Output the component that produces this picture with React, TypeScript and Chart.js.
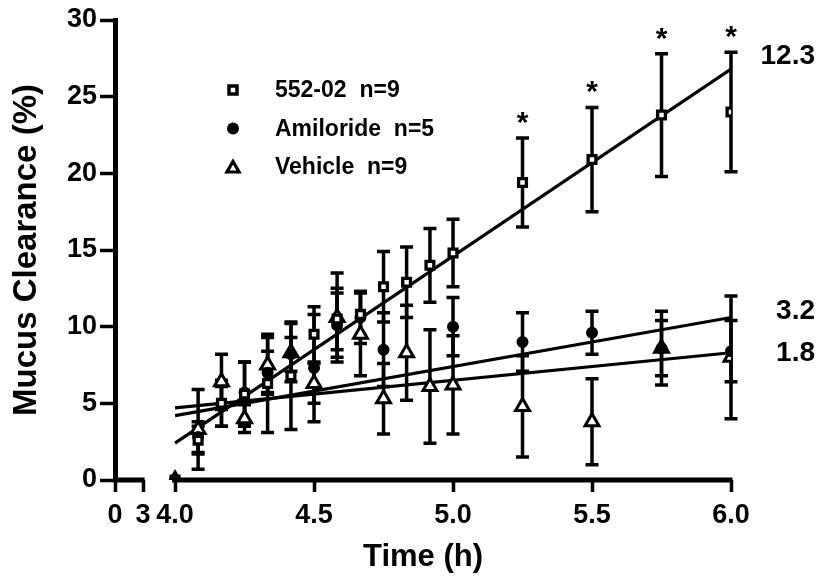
import React, { useEffect, useRef } from 'react';
import { Chart, registerables } from 'chart.js';

Chart.register(...registerables);

// ---------- data ----------
const TIMES_552 = [4.0, 4.083, 4.167, 4.25, 4.333, 4.417, 4.5, 4.583, 4.667, 4.75, 4.833, 4.917, 5.0, 5.25, 5.5, 5.75, 6.0];
const MEAN_552 = [0, 2.6, 5.0, 5.6, 6.3, 6.8, 9.5, 10.5, 10.8, 12.6, 12.9, 14.0, 14.8, 19.4, 20.9, 23.8, 24.0];
const SEM_552 = [0, 0.9, 1.5, 2.1, 3.2, 3.5, 1.8, 2.0, 1.5, 2.3, 2.3, 2.4, 2.2, 2.9, 3.4, 4.0, 3.9];

const TIMES_AMIL = [4.0, 4.083, 4.167, 4.25, 4.333, 4.417, 4.5, 4.583, 4.667, 4.75, 5.0, 5.25, 5.5, 5.75, 6.0];
const MEAN_AMIL = [0, 2.8, 4.8, 5.7, 7.0, 8.2, 7.3, 10.1, 10.6, 8.5, 10.0, 9.0, 9.6, 8.6, 8.4];
const SEM_AMIL = [0, 1.0, 1.3, 2.0, 1.4, 1.1, 3.5, 2.1, 1.7, 2.4, 1.9, 1.9, 1.4, 2.4, 2.0];

const TIMES_VEH = [4.0, 4.083, 4.167, 4.25, 4.333, 4.417, 4.5, 4.583, 4.667, 4.75, 4.833, 4.917, 5.0, 5.25, 5.5, 5.75, 6.0];
const MEAN_VEH = [0, 3.3, 6.4, 4.0, 7.5, 8.3, 6.3, 10.6, 9.5, 5.3, 8.3, 6.1, 6.2, 4.8, 3.8, 8.6, 8.0];
const SEM_VEH = [0, 2.6, 1.8, 0.9, 1.8, 1.9, 1.3, 2.9, 2.7, 2.3, 3.1, 3.7, 3.2, 3.3, 2.8, 1.8, 4.0];

// linear fits
const FIT_X = [4.0, 6.0];
const FIT_552 = [2.4, 26.8];
const FIT_AMIL = [4.2, 10.6];
const FIT_VEH = [4.7, 8.3];
const SLOPE_LABELS = ['12.3', '3.2', '1.8'];
const SLOPE_LABEL_Y = [27.7, 11.1, 8.3];

// significance marks (552-02)
const SIG_TIMES = [5.25, 5.5, 5.75, 6.0];

const LEGEND_LABELS = ['552-02  n=9', 'Amiloride  n=5', 'Vehicle  n=9'];

// broken x axis: the "0" and "3" h ticks sit on a compressed segment before 4.0
const X_PRE_LABELS = ['0', '3'];
const X_PRE_POS = [3.784, 3.885];
const X_MAIN_TICKS = [4.0, 4.5, 5.0, 5.5, 6.0];
const Y_MIN = 0;
const Y_MAX = 30;
const Y_STEP = 5;

const FONT = "'Liberation Sans', Arial, Helvetica, sans-serif";

type Series = { times: number[]; mean: number[]; sem: number[]; style: string };
const SERIES: Series[] = [
  { times: TIMES_552, mean: MEAN_552, sem: SEM_552, style: 'rect' },
  { times: TIMES_AMIL, mean: MEAN_AMIL, sem: SEM_AMIL, style: 'circle' },
  { times: TIMES_VEH, mean: MEAN_VEH, sem: SEM_VEH, style: 'triangle' },
];

function drawMarker(ctx: CanvasRenderingContext2D, style: string, x: number, y: number) {
  ctx.save();
  ctx.strokeStyle = '#000';
  ctx.fillStyle = '#fff';
  ctx.lineWidth = 3.5;
  ctx.beginPath();
  if (style === 'rect') {
    const s = 4;
    ctx.rect(x - s, y - s, 2 * s, 2 * s);
    ctx.fill();
    ctx.stroke();
  } else if (style === 'circle') {
    ctx.fillStyle = '#000';
    ctx.arc(x, y, 6, 0, Math.PI * 2);
    ctx.fill();
  } else {
    ctx.lineWidth = 3.2;
    const r = 7;
    for (let k = 0; k < 3; k++) {
      const a = (k * 2 * Math.PI) / 3;
      const px = x + Math.sin(a) * r;
      const py = y + 1.5 - Math.cos(a) * r;
      if (k === 0) ctx.moveTo(px, py);
      else ctx.lineTo(px, py);
    }
    ctx.closePath();
    ctx.fill();
    ctx.stroke();
  }
  ctx.restore();
}

const errorBarPlugin = {
  id: 'errorBars',
  beforeDatasetsDraw(chart: any) {
    const { ctx } = chart;
    const xs = chart.scales.x;
    const ys = chart.scales.y;
    ctx.save();
    ctx.strokeStyle = '#000';
    ctx.lineWidth = 3.5;
    ctx.lineCap = 'butt';
    SERIES.forEach((s) => {
      s.times.forEach((t, i) => {
        const e = s.sem[i];
        if (!e) return;
        const px = xs.getPixelForValue(t);
        const top = ys.getPixelForValue(s.mean[i] + e);
        const bot = ys.getPixelForValue(s.mean[i] - e);
        ctx.beginPath();
        ctx.moveTo(px, top);
        ctx.lineTo(px, bot);
        ctx.moveTo(px - 6.5, top);
        ctx.lineTo(px + 6.5, top);
        ctx.moveTo(px - 6.5, bot);
        ctx.lineTo(px + 6.5, bot);
        ctx.stroke();
      });
    });
    ctx.restore();
  },
};

const annotationPlugin = {
  id: 'annotations',
  afterDraw(chart: any) {
    const { ctx, chartArea } = chart;
    const xs = chart.scales.x;
    const ys = chart.scales.y;
    ctx.save();

    // broken x-axis line
    const y0 = ys.getPixelForValue(Y_MIN);
    ctx.strokeStyle = '#000';
    ctx.lineWidth = 5;
    ctx.beginPath();
    ctx.moveTo(xs.getPixelForValue(X_PRE_POS[0]) - 2, y0);
    ctx.lineTo(xs.getPixelForValue(X_PRE_POS[1]) + 1.5, y0);
    ctx.moveTo(xs.getPixelForValue(X_MAIN_TICKS[0]) - 3, y0);
    ctx.lineTo(xs.getPixelForValue(X_MAIN_TICKS[X_MAIN_TICKS.length - 1]) + 1.5, y0);
    ctx.stroke();

    // asterisks
    ctx.fillStyle = '#000';
    ctx.font = `bold 30px ${FONT}`;
    ctx.textAlign = 'center';
    ctx.textBaseline = 'alphabetic';
    SIG_TIMES.forEach((t) => {
      const i = TIMES_552.indexOf(t);
      const px = xs.getPixelForValue(t);
      const top = ys.getPixelForValue(MEAN_552[i] + SEM_552[i]);
      ctx.fillText('*', px, top - 6);
    });

    // slope labels
    ctx.font = `bold 28px ${FONT}`;
    ctx.textAlign = 'right';
    ctx.textBaseline = 'middle';
    SLOPE_LABELS.forEach((lab, i) => {
      ctx.fillText(lab, chartArea.right + 84, ys.getPixelForValue(SLOPE_LABEL_Y[i]) + 1);
    });

    // legend
    ctx.font = `bold 23px ${FONT}`;
    ctx.textAlign = 'left';
    ctx.textBaseline = 'middle';
    LEGEND_LABELS.forEach((lab, i) => {
      const ly = chartArea.top + 70 + i * 38.5;
      drawMarker(ctx, SERIES[i].style, chartArea.left + 118, ly);
      ctx.fillStyle = '#000';
      ctx.fillText(lab, chartArea.left + 160, ly + 1);
    });

    ctx.restore();
  },
};

export default function App() {
  const ref = useRef<HTMLCanvasElement | null>(null);

  useEffect(() => {
    if (!ref.current) return;
    const xLabels = [...X_PRE_LABELS, ...X_MAIN_TICKS.map((v) => v.toFixed(1))];
    const xTickValues = [...X_PRE_POS, ...X_MAIN_TICKS];

    const pointDs = (label: string, s: Series, style: string, radius: number, fill: string, bw: number) => ({
      type: 'scatter' as const,
      label,
      data: s.times.map((t, i) => ({ x: t, y: s.mean[i] })),
      pointStyle: style,
      pointRadius: radius,
      pointBackgroundColor: fill,
      pointBorderColor: '#000',
      pointBorderWidth: bw,
      showLine: false,
    });
    const fitDs = (label: string, ys: number[]) => ({
      type: 'line' as const,
      label,
      data: FIT_X.map((x, i) => ({ x, y: ys[i] })),
      borderColor: '#000',
      borderWidth: 3.2,
      pointRadius: 0,
      fill: false,
    });

    const chart = new Chart(ref.current, {
      type: 'scatter',
      data: {
        datasets: [
          pointDs('552-02 n=9', SERIES[0], 'rect', 5.5, '#fff', 3.3),
          pointDs('Amiloride n=5', SERIES[1], 'circle', 5, '#000', 2),
          pointDs('Vehicle n=9', SERIES[2], 'triangle', 8, '#fff', 3),
          fitDs('fit 552-02', FIT_552),
          fitDs('fit Amiloride', FIT_AMIL),
          fitDs('fit Vehicle', FIT_VEH),
        ] as any,
      },
      options: {
        animation: false,
        responsive: false,
        devicePixelRatio: 1,
        layout: { padding: { top: 20, right: 86, bottom: 0, left: 0 } },
        plugins: { legend: { display: false }, tooltip: { enabled: false } },
        scales: {
          x: {
            type: 'linear',
            min: X_PRE_POS[0],
            max: X_MAIN_TICKS[X_MAIN_TICKS.length - 1],
            afterBuildTicks: (scale: any) => {
              scale.ticks = xTickValues.map((v) => ({ value: v }));
            },
            afterFit: (scale: any) => {
              scale.height = 101;
            },
            border: { display: false },
            grid: { drawOnChartArea: false, drawTicks: true, tickLength: 12, tickWidth: 3.5, tickColor: '#000' },
            ticks: {
              autoSkip: false,
              maxRotation: 0,
              padding: 7,
              color: '#000',
              font: { family: FONT, size: 27, weight: 'bold' },
              callback: (_v: any, i: number) => xLabels[i],
            },
            title: {
              display: true,
              text: 'Time (h)',
              color: '#000',
              font: { family: FONT, size: 31, weight: 'bold' },
              padding: { top: 0, bottom: 5 },
            },
          },
          y: {
            type: 'linear',
            min: Y_MIN,
            max: Y_MAX,
            afterFit: (scale: any) => {
              scale.width = 115;
            },
            border: { display: true, width: 5, color: '#000' },
            grid: { drawOnChartArea: false, drawTicks: true, tickLength: 15, tickWidth: 3.5, tickColor: '#000' },
            ticks: {
              stepSize: Y_STEP,
              padding: 3,
              color: '#000',
              font: { family: FONT, size: 27, weight: 'bold' },
            },
            title: {
              display: true,
              text: 'Mucus Clearance (%)',
              color: '#000',
              font: { family: FONT, size: 33, weight: 'bold' },
              padding: { top: 7, bottom: 0 },
            },
          },
        },
      } as any,
      plugins: [errorBarPlugin, annotationPlugin],
    });
    return () => chart.destroy();
  }, []);

  return (
    <div style={{ position: 'absolute', left: 0, top: 0, width: 817, height: 581, background: '#fff' }}>
      <canvas ref={ref} width={817} height={581} style={{ display: 'block' }} />
    </div>
  );
}
